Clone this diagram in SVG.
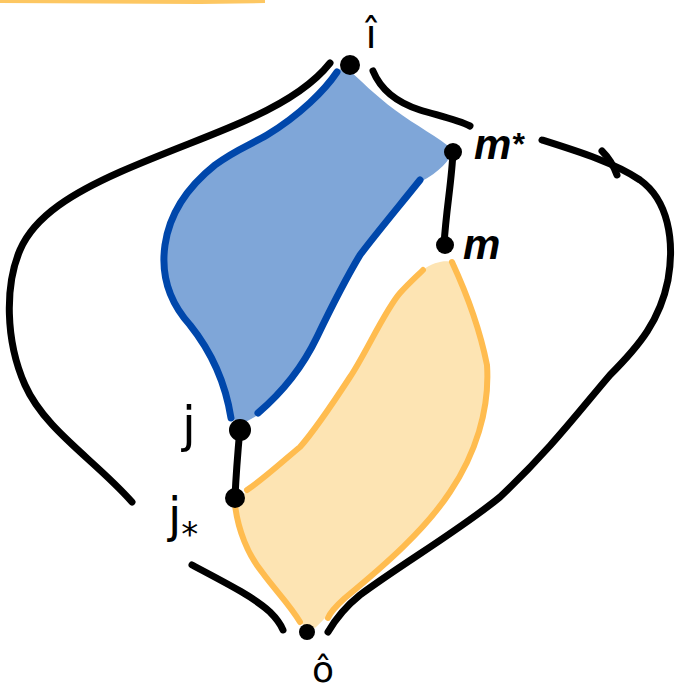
<svg xmlns="http://www.w3.org/2000/svg" width="677" height="690" viewBox="0 0 677 690">
<style>
.edge{fill:none;stroke:#000;stroke-width:7;stroke-linecap:round;stroke-linejoin:round}
.dot{fill:#000}
.lbl{font-family:"DejaVu Sans","Liberation Sans",sans-serif;fill:#000}
.mlbl{font-family:"Liberation Sans","DejaVu Sans",sans-serif;font-weight:bold;font-style:italic;fill:#000}
.bout{fill:none;stroke:#0047ab;stroke-width:7;stroke-linecap:round}
.oout{fill:none;stroke:#ffbc4f;stroke-width:6;stroke-linecap:round}
</style>
<rect width="677" height="690" fill="#fff"/>
<path d="M0,1 L200,2 L265,1" fill="none" stroke="#fdc762" stroke-width="4"/>
<g id="region-blue">
<path d="M347,68 C360,80 375,95 395,110 C415,125 440,138 453,150 C450,160 440,172 420,182 C400,205 375,235 360,255 C345,280 330,310 317,337 C305,362 285,390 258,415 L242,424 L232,418 C225,380 210,350 190,325 C172,305 160,280 165,245 C170,210 190,185 215,165 C235,150 250,145 267,135 C300,115 325,90 337,70 Z" fill="#7fa6d8"/>
<path class="bout" d="M337,72 C325,90 300,115 267,135 C250,145 235,150 215,165 C190,185 170,210 165,245 C160,280 172,305 190,325 C210,350 225,380 231,418"/>
<path class="bout" d="M420,180 C400,205 375,235 360,255 C345,280 330,310 317,337 C305,362 285,390 258,413"/>
</g>
<g id="region-orange">
<path d="M423,270 C433,262 445,260 453,262 C465,290 480,330 487,370 C488,420 470,460 450,490 C420,535 380,570 340,603 C330,612 322,622 315,628 L303,625 C290,605 270,580 255,560 C240,540 232,520 235,505 L247,490 C265,478 290,455 300,447 C315,430 335,400 350,377 C365,355 385,310 400,293 C410,282 418,275 423,270 Z" fill="#fde4b3"/>
<path class="oout" d="M247,490 C265,478 290,455 300,447 C315,430 335,400 350,377 C365,355 385,310 400,293 C410,282 418,275 423,270"/>
<path class="oout" d="M452,262 C465,290 480,330 487,365 C490,410 475,455 450,492 C425,530 385,565 345,598 C335,607 330,613 328,618"/>
<path class="oout" d="M235,505 C238,530 248,555 262,572 C275,590 290,605 300,622" stroke="#fdd08a"/>
</g>
<g id="connectors">
<path class="edge" d="M330,63 C315,82 290,100 253,117 C220,133 170,150 120,172 C75,192 35,215 20,250 C5,285 5,340 25,385 C45,430 95,460 132,502"/>
<path class="edge" d="M192,565 C230,585 255,598 270,612 C277,619 281,625 283,630"/>
<path class="edge" d="M373,71 C380,88 395,102 420,110 C440,116 458,120 470,126"/>
<path class="edge" d="M542,140 C580,152 615,163 640,180 C668,200 675,240 668,280 C660,320 640,345 610,375 C580,410 550,450 500,497 C460,530 400,565 360,595 C345,607 335,620 328,632"/>
<path class="edge" d="M602,151 Q612,161 617,175" stroke-width="5"/>
<path class="edge" d="M453,151 C452,180 446,210 444,245"/>
<path class="edge" d="M240,428 C238,450 236,475 235,497"/>
</g>
<g id="node-i-hat">
<circle class="dot" cx="350" cy="65" r="10"/>
<text class="lbl" x="371" y="48" font-size="40" text-anchor="middle">î</text>
</g>
<g id="node-m-star">
<circle class="dot" cx="453" cy="152" r="9"/>
<text class="mlbl" x="474" y="159" font-size="42">m<tspan dy="-4" font-size="32">*</tspan></text>
</g>
<g id="node-m">
<circle class="dot" cx="445" cy="245" r="9"/>
<text class="mlbl" x="463" y="259" font-size="42">m</text>
</g>
<g id="node-j">
<circle class="dot" cx="240" cy="430" r="11"/>
<text class="lbl" x="182" y="442" font-size="50">j</text>
</g>
<g id="node-j-star">
<circle class="dot" cx="235" cy="498" r="10"/>
<text class="lbl" x="168" y="532" font-size="48">j<tspan dy="14" font-size="34">*</tspan></text>
</g>
<g id="node-o-hat">
<circle class="dot" cx="307" cy="632" r="8"/>
<text class="lbl" x="323" y="682" font-size="36" text-anchor="middle">ô</text>
</g>
</svg>
